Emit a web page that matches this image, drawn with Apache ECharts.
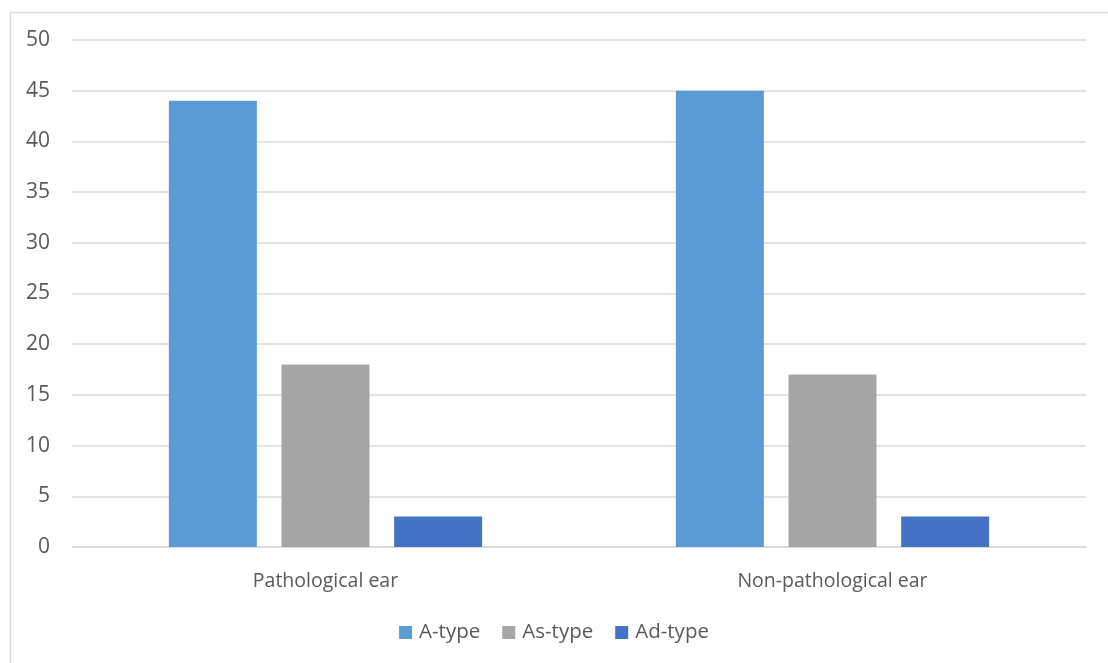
<!DOCTYPE html>
<html>
<head>
<meta charset="utf-8">
<script src="https://cdn.jsdelivr.net/npm/echarts@6/dist/echarts.min.js"></script>
<style>html,body{margin:0;padding:0;background:#fff;}#c{width:1108px;height:663px;}</style>
</head>
<body>
<div id="c"></div>
<script>
const categories = ['Pathological ear', 'Non-pathological ear'];
const seriesNames = ['A-type', 'As-type', 'Ad-type'];
const aType = [44, 45];
const asType = [18, 17];
const adType = [3, 3];
const colors = ['#5B9BD5', '#A5A5A5', '#4472C4'];
const font = '"Open Sans", "Liberation Sans", sans-serif';

const chart = echarts.init(document.getElementById('c'));
const dataSets = [aType, asType, adType];
chart.setOption({
  animation: false,
  color: colors,
  graphic: [{
    type: 'rect', left: 8, top: 10, silent: true,
    shape: { x: 0, y: 0, width: 1120, height: 680 },
    style: { fill: 'none', stroke: '#D9D9D9', lineWidth: 1.5 }
  }],
  grid: { left: 72, right: 22, top: 40, bottom: 116, containLabel: false },
  legend: {
    bottom: 15, left: 'center', itemWidth: 13, itemHeight: 13, itemGap: 22,
    icon: 'rect',
    textStyle: { color: '#595959', fontSize: 20.5, fontFamily: font, padding: [0, 0, 0, 2] },
    data: seriesNames
  },
  xAxis: {
    type: 'category', data: categories,
    axisTick: { show: false },
    axisLine: { lineStyle: { color: '#D9D9D9', width: 1.5 } },
    axisLabel: { color: '#595959', fontSize: 19.5, fontFamily: font, margin: 24 }
  },
  yAxis: {
    type: 'value', min: 0, max: 50, interval: 5,
    axisLine: { show: false }, axisTick: { show: false },
    splitLine: { lineStyle: { color: '#D9D9D9', width: 1.5 } },
    axisLabel: { color: '#595959', fontSize: 21, fontFamily: font, margin: 22 }
  },
  series: seriesNames.map((n, i) => ({
    name: n, type: 'bar', data: dataSets[i],
    barWidth: 88, barGap: '28%'
  }))
});
</script>
</body>
</html>
